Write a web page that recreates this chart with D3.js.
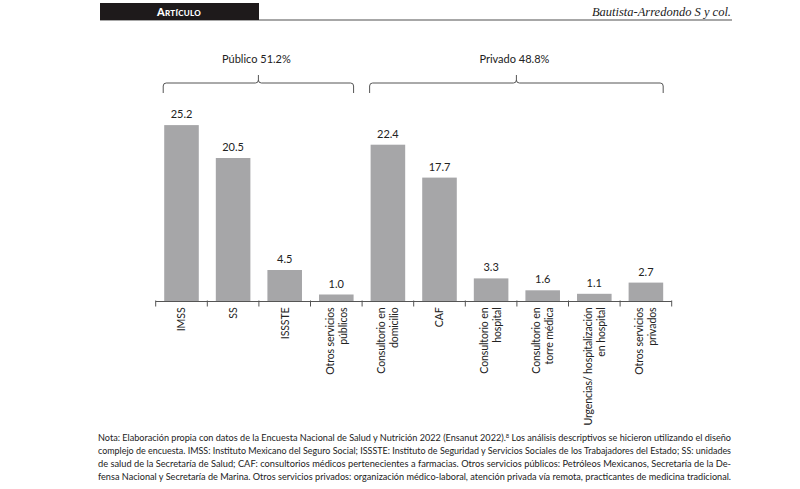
<!DOCTYPE html>
<html>
<head>
<meta charset="utf-8">
<script src="https://cdn.jsdelivr.net/npm/d3@7"></script>
<style>
  html, body { margin: 0; padding: 0; background: #fff; }
  svg { display: block; }
</style>
</head>
<body>
<svg id="chart" width="800" height="489"></svg>
<script>
// ---- data ----
const categories = ["IMSS","SS","ISSSTE","Otros servicios públicos","Consultorio en domicilio","CAF","Consultorio en hospital","Consultorio en torre médica","Urgencias/ hospitalización en hospital","Otros servicios privados"];
const labelLines = [["IMSS"],["SS"],["ISSSTE"],["Otros servicios","públicos"],["Consultorio en","domicilio"],["CAF"],["Consultorio en","hospital"],["Consultorio en","torre médica"],["Urgencias/ hospitalización","en hospital"],["Otros servicios","privados"]];
const values = [25.2, 20.5, 4.5, 1.0, 22.4, 17.7, 3.3, 1.6, 1.1, 2.7];
const groupLabels = ["Público 51.2%", "Privado 48.8%"];
const groupFirst = ["IMSS", "Consultorio en domicilio"];
const groupLast = ["Otros servicios públicos", "Otros servicios privados"];
const headerLeft = "Artículo";
const headerRight = "Bautista-Arredondo S y col.";
const noteLines = [
  ["Nota: Elaboración propia con datos de la Encuesta Nacional de Salud y Nutrición 2022 (Ensanut 2022).", "8", " Los análisis descriptivos se hicieron utilizando el diseño"],
  ["complejo de encuesta. IMSS: Instituto Mexicano del Seguro Social; ISSSTE: Instituto de Seguridad y Servicios Sociales de los Trabajadores del Estado; SS: unidades"],
  ["de salud de la Secretaría de Salud; CAF: consultorios médicos pertenecientes a farmacias. Otros servicios públicos: Petróleos Mexicanos, Secretaría de la De-"],
  ["fensa Nacional y Secretaría de Marina. Otros servicios privados: organización médico-laboral, atención privada vía remota, practicantes de medicina tradicional."]
];

// ---- drawing ----
const FONT = "Lato, 'Open Sans', sans-serif";
const svg = d3.select("#chart");

// header
svg.append("line").attr("x1", 100).attr("x2", 732).attr("y1", 20).attr("y2", 20)
  .attr("stroke", "#8a8a8a").attr("stroke-width", 1.5);
svg.append("rect").attr("x", 100).attr("y", 3).attr("width", 159).attr("height", 17).attr("fill", "#1e1a1b");
svg.append("text").attr("x", 179).attr("y", 15.5).attr("text-anchor", "middle")
  .attr("fill", "#fff").attr("font-family", FONT).attr("font-weight", 900)
  .attr("font-size", 11).style("font-variant", "small-caps").attr("letter-spacing", 0.3)
  .text(headerLeft);
svg.append("text").attr("x", 731).attr("y", 16).attr("text-anchor", "end")
  .attr("fill", "#222").attr("font-family", "'Liberation Serif', 'DejaVu Serif', serif")
  .attr("font-style", "italic").attr("font-size", 12.5).text(headerRight);

const x = d3.scaleBand().domain(categories).range([155.7, 671.7]).paddingInner(0.33).paddingOuter(0.165);
const y = d3.scaleLinear().domain([0, 30]).range([301.5, 91.5]);
const bw = x.bandwidth();

// bars
svg.append("g").selectAll("rect").data(values).join("rect")
  .attr("x", (d, i) => x(categories[i]))
  .attr("y", d => y(d))
  .attr("width", bw)
  .attr("height", d => y(0) - y(d))
  .attr("fill", "#a6a6a8");

// value labels
svg.append("g").selectAll("text").data(values).join("text")
  .attr("x", (d, i) => x(categories[i]) + bw / 2)
  .attr("y", d => y(d) - 7)
  .attr("text-anchor", "middle")
  .attr("font-family", FONT).attr("font-size", 11).attr("fill", "#222")
  .text(d => d3.format(".1f")(d));

// axis line and ticks at band boundaries
const [r0, r1] = x.range();
svg.append("line").attr("x1", r0).attr("x2", r1).attr("y1", y(0)).attr("y2", y(0))
  .attr("stroke", "#555").attr("stroke-width", 1);
svg.append("g").selectAll("line").data(d3.range(categories.length + 1)).join("line")
  .attr("x1", i => r0 + i * x.step()).attr("x2", i => r0 + i * x.step())
  .attr("y1", y(0) - 1).attr("y2", y(0) + 5)
  .attr("stroke", "#555").attr("stroke-width", 1);

// category labels (rotated)
const lab = svg.append("g").selectAll("text").data(categories).join("text")
  .attr("transform", c => `translate(${x(c) + bw / 2},${y(0) + 6}) rotate(-90)`)
  .attr("text-anchor", "end")
  .attr("font-family", FONT).attr("font-size", 10.6).attr("letter-spacing", -0.15).attr("fill", "#222");
lab.each(function(c, i) {
  const lines = labelLines[i];
  const n = lines.length;
  d3.select(this).selectAll("tspan").data(lines).join("tspan")
    .attr("x", 0)
    .attr("y", (l, j) => (j - (n - 1) / 2) * 13)
    .attr("dy", "0.36em")
    .text(l => l);
});

// group brackets
const bTop = 83, bEnd = 93, bNotch = 75, rr = 3;
groupLabels.forEach((g, k) => {
  const xa = x(groupFirst[k]) - 1;
  const xb = x(groupLast[k]) + bw;
  const xm = (xa + xb) / 2;
  const p = d3.path();
  p.moveTo(xa, bEnd);
  p.lineTo(xa, bTop + rr);
  p.quadraticCurveTo(xa, bTop, xa + rr, bTop);
  p.lineTo(xm - rr, bTop);
  p.quadraticCurveTo(xm, bTop, xm, bTop - rr);
  p.lineTo(xm, bNotch);
  p.moveTo(xm, bTop - rr);
  p.quadraticCurveTo(xm, bTop, xm + rr, bTop);
  p.lineTo(xb - rr, bTop);
  p.quadraticCurveTo(xb, bTop, xb, bTop + rr);
  p.lineTo(xb, bEnd);
  svg.append("path").attr("d", p.toString()).attr("fill", "none")
    .attr("stroke", "#555").attr("stroke-width", 1);
  svg.append("text").attr("x", xm - 2).attr("y", 63).attr("text-anchor", "middle")
    .attr("font-family", FONT).attr("font-size", 11).attr("fill", "#222").text(g);
});

// note: each line fitted to the text block width (font scaled / word-spaced)
const noteX = 98, noteW = 633;
noteLines.forEach((parts, i) => {
  const t = svg.append("text").attr("x", noteX).attr("y", 441 + i * 13)
    .attr("font-family", FONT).attr("font-size", 10).attr("fill", "#222");
  parts.forEach((s, j) => {
    const ts = t.append("tspan").text(s);
    if (parts.length === 3 && j === 1) ts.attr("font-size", 6.5).attr("baseline-shift", "45%");
  });
  const w = t.node().getComputedTextLength();
  if (w > noteW) {
    const fs = 10 * noteW / w;
    t.attr("font-size", fs);
    t.selectAll("tspan").filter((d, j) => parts.length === 3 && j === 1).attr("font-size", fs * 0.65);
  }
  const w2 = t.node().getComputedTextLength();
  const spaces = parts.join("").split(" ").length - 1;
  if (w2 < noteW && spaces > 0) t.attr("word-spacing", (noteW - w2) / spaces);
});
</script>
</body>
</html>
